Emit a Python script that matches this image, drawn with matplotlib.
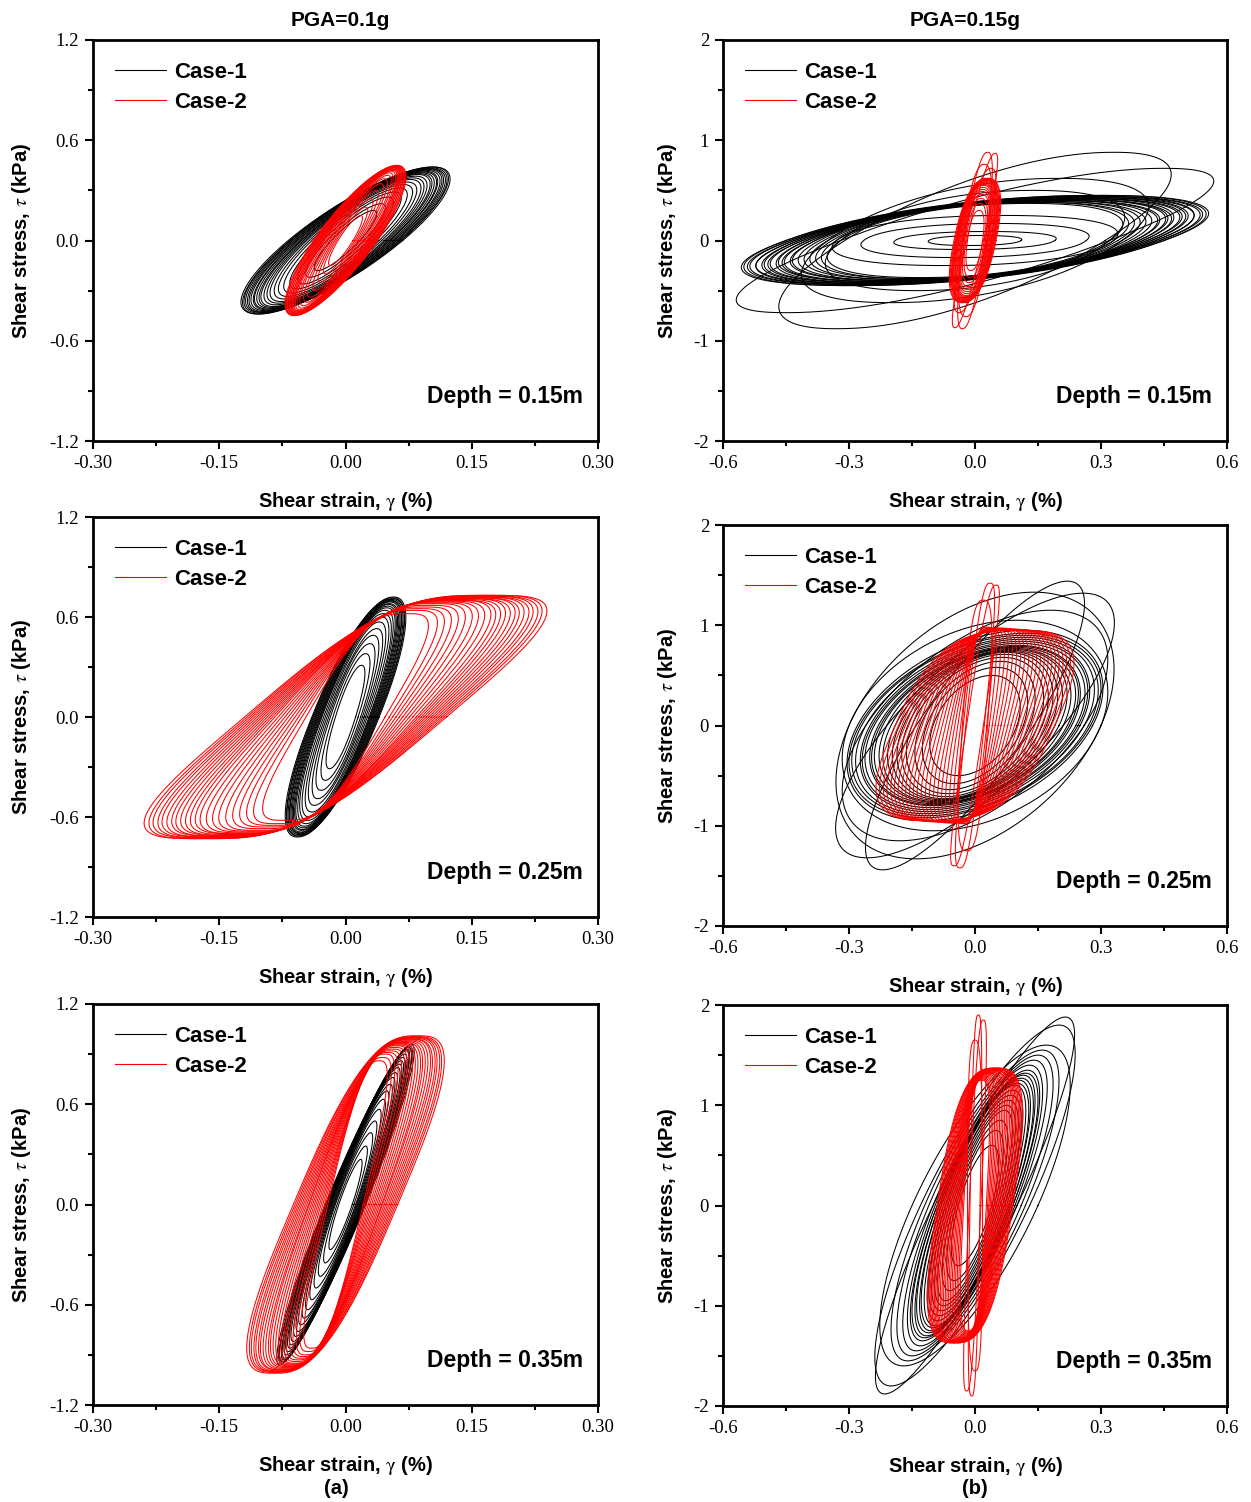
import numpy as np
import matplotlib.pyplot as plt

# Loop parameters, one entry per loop:
#   *_gt : shear strain (%) where the loop reaches its peak stress
#   *_tt : peak shear stress (kPa)
#   *_w  : half width of the loop at zero stress (%)

# PGA = 0.1g, depth 0.15 m
a1_c1_gt = [0.104, 0.103, 0.101, 0.100, 0.098, 0.097, 0.095, 0.093, 0.092, 0.090, 0.088,
            0.086, 0.083, 0.080, 0.077, 0.073, 0.069, 0.064, 0.058, 0.050, 0.042, 0.033]
a1_c1_tt = [0.44, 0.44, 0.435, 0.43, 0.43, 0.425, 0.42, 0.415, 0.41, 0.405, 0.40,
            0.395, 0.385, 0.375, 0.365, 0.35, 0.335, 0.315, 0.29, 0.26, 0.22, 0.18]
a1_c1_w = [0.068, 0.066, 0.066, 0.064, 0.063, 0.061, 0.060, 0.058, 0.057, 0.055, 0.053,
           0.052, 0.050, 0.048, 0.046, 0.043, 0.040, 0.036, 0.032, 0.027, 0.022, 0.017]
a1_c2_gt = [0.061, 0.060, 0.061, 0.059, 0.060, 0.058, 0.059, 0.057, 0.058, 0.056, 0.057,
            0.055, 0.056, 0.054, 0.052, 0.050, 0.046, 0.042, 0.036, 0.030, 0.024, 0.018]
a1_c2_tt = [0.45, 0.448, 0.446, 0.444, 0.442, 0.44, 0.438, 0.436, 0.434, 0.43, 0.428,
            0.425, 0.42, 0.415, 0.405, 0.39, 0.37, 0.34, 0.30, 0.25, 0.20, 0.15]
a1_c2_w = [0.038, 0.037, 0.036, 0.035, 0.034, 0.033, 0.032, 0.031, 0.030, 0.029, 0.028,
           0.027, 0.026, 0.025, 0.023, 0.021, 0.019, 0.017, 0.015, 0.013, 0.011, 0.009]

# PGA = 0.1g, depth 0.25 m
a2_c1_gt = [0.057, 0.056, 0.056, 0.055, 0.054, 0.054, 0.053, 0.052, 0.051, 0.050,
            0.049, 0.047, 0.045, 0.043, 0.040, 0.037, 0.033, 0.029, 0.024, 0.019]
a2_c1_tt = [0.72, 0.715, 0.71, 0.705, 0.70, 0.695, 0.69, 0.68, 0.675, 0.665,
            0.655, 0.64, 0.62, 0.60, 0.57, 0.53, 0.49, 0.44, 0.38, 0.31]
a2_c1_w = [0.040, 0.039, 0.038, 0.037, 0.036, 0.035, 0.034, 0.033, 0.032, 0.031,
           0.030, 0.029, 0.028, 0.026, 0.024, 0.022, 0.020, 0.018, 0.015, 0.012]
a2_c2_gt = [0.170, 0.166, 0.163, 0.159, 0.156, 0.152, 0.148, 0.145, 0.141, 0.137, 0.133,
            0.129, 0.125, 0.120, 0.115, 0.110, 0.104, 0.098, 0.092, 0.086, 0.080, 0.072]
a2_c2_tt = [0.73, 0.73, 0.725, 0.725, 0.72, 0.72, 0.715, 0.715, 0.71, 0.71, 0.705,
            0.70, 0.70, 0.695, 0.69, 0.685, 0.68, 0.67, 0.66, 0.65, 0.64, 0.62]
a2_c2_w = [0.120, 0.117, 0.114, 0.111, 0.108, 0.105, 0.102, 0.099, 0.096, 0.093, 0.090,
           0.087, 0.084, 0.080, 0.076, 0.072, 0.068, 0.064, 0.060, 0.056, 0.052, 0.047]

# PGA = 0.1g, depth 0.35 m
a3_c1_gt = [0.078, 0.076, 0.075, 0.073, 0.072, 0.070, 0.068, 0.066, 0.064, 0.062,
            0.059, 0.056, 0.053, 0.049, 0.045, 0.040, 0.035, 0.030, 0.024, 0.018]
a3_c1_tt = [0.96, 0.95, 0.94, 0.93, 0.92, 0.90, 0.88, 0.86, 0.84, 0.82,
            0.79, 0.76, 0.72, 0.68, 0.63, 0.57, 0.50, 0.43, 0.35, 0.27]
a3_c1_w = [0.024, 0.023, 0.023, 0.022, 0.022, 0.021, 0.021, 0.020, 0.020, 0.019,
           0.018, 0.018, 0.017, 0.016, 0.015, 0.014, 0.013, 0.012, 0.010, 0.008]
a3_c2_gt = [0.085, 0.083, 0.082, 0.080, 0.079, 0.077, 0.076, 0.074, 0.072, 0.070, 0.068,
            0.066, 0.064, 0.062, 0.060, 0.058, 0.056, 0.053, 0.050, 0.047, 0.044, 0.040]
a3_c2_tt = [1.01, 1.005, 1.0, 1.0, 0.995, 0.99, 0.99, 0.985, 0.98, 0.975, 0.97,
            0.965, 0.96, 0.955, 0.95, 0.94, 0.93, 0.92, 0.91, 0.90, 0.88, 0.86]
a3_c2_w = [0.062, 0.060, 0.058, 0.056, 0.054, 0.052, 0.050, 0.048, 0.046, 0.044, 0.043,
           0.041, 0.039, 0.037, 0.035, 0.033, 0.031, 0.029, 0.027, 0.025, 0.023, 0.021]

# PGA = 0.15g, depth 0.15 m
b1_c1_gt = [0.30, 0.29, 0.29, 0.28, 0.27, 0.27, 0.26, 0.25, 0.25, 0.24, 0.23, 0.22,
            0.22, 0.21, 0.20, 0.19, 0.18, 0.17, 0.16, 0.15, 0.14, 0.13,
            0.07, 0.05, 0.03, 0.015,
            0.33, 0.45, 0.14, 0.20]
b1_c1_tt = [0.45, 0.45, 0.44, 0.44, 0.44, 0.43, 0.43, 0.43, 0.42, 0.42, 0.42, 0.41,
            0.41, 0.41, 0.40, 0.40, 0.40, 0.39, 0.39, 0.38, 0.38, 0.37,
            0.25, 0.17, 0.09, 0.05,
            0.88, 0.72, 0.50, 0.62]
b1_c1_w = [0.45, 0.45, 0.44, 0.44, 0.43, 0.43, 0.42, 0.42, 0.41, 0.41, 0.40, 0.40,
           0.39, 0.39, 0.38, 0.38, 0.37, 0.36, 0.35, 0.34, 0.33, 0.32,
           0.33, 0.265, 0.19, 0.11,
           0.31, 0.32, 0.32, 0.35]
b1_c2_gt = [0.030, 0.029, 0.028, 0.027, 0.026, 0.025, 0.024, 0.023, 0.022, 0.021, 0.020,
            0.019, 0.018, 0.017, 0.016, 0.014, 0.012, 0.010, 0.030, 0.048, 0.022, 0.038]
b1_c2_tt = [0.62, 0.62, 0.61, 0.61, 0.60, 0.60, 0.59, 0.58, 0.57, 0.56, 0.55,
            0.53, 0.51, 0.49, 0.46, 0.42, 0.37, 0.30, 0.88, 0.87, 0.76, 0.72]
b1_c2_w = [0.050, 0.048, 0.046, 0.045, 0.044, 0.043, 0.042, 0.040, 0.039, 0.038, 0.036,
           0.034, 0.032, 0.030, 0.028, 0.025, 0.022, 0.018, 0.025, 0.020, 0.030, 0.028]

# PGA = 0.15g, depth 0.25 m
b2_c1_gt = [0.12, 0.12, 0.115, 0.115, 0.11, 0.11, 0.105, 0.10, 0.10, 0.095, 0.09, 0.09,
            0.085, 0.08, 0.075, 0.07, 0.065, 0.06, 0.05, 0.04,
            0.257, 0.14, 0.22, 0.18, 0.10]
b2_c1_tt = [0.95, 0.92, 0.90, 0.88, 0.86, 0.84, 0.82, 0.80, 0.79, 0.78, 0.77, 0.76,
            0.75, 0.74, 0.73, 0.71, 0.68, 0.64, 0.58, 0.50,
            1.32, 1.33, 1.44, 1.15, 1.05]
b2_c1_w = [0.28, 0.275, 0.27, 0.26, 0.25, 0.245, 0.24, 0.23, 0.225, 0.22, 0.21, 0.2,
           0.19, 0.18, 0.17, 0.16, 0.15, 0.13, 0.115, 0.10,
           0.21, 0.30, 0.14, 0.26, 0.30]
b2_c2_gt = [0.100, 0.098, 0.095, 0.093, 0.090, 0.088, 0.085, 0.082, 0.079, 0.076, 0.073,
            0.070, 0.066, 0.062, 0.058, 0.054, 0.050, 0.045, 0.040, 0.035, 0.030, 0.025,
            0.036, 0.050, 0.020]
b2_c2_tt = [0.95, 0.95, 0.95, 0.95, 0.95, 0.95, 0.96, 0.96, 0.96, 0.96, 0.96,
            0.96, 0.96, 0.97, 0.97, 0.97, 0.97, 0.97, 0.97, 0.97, 0.98, 0.98,
            1.42, 1.40, 1.25]
b2_c2_w = [0.190, 0.182, 0.174, 0.166, 0.158, 0.150, 0.142, 0.134, 0.126, 0.118, 0.110,
           0.102, 0.094, 0.086, 0.078, 0.070, 0.062, 0.055, 0.048, 0.041, 0.034, 0.028,
           0.022, 0.020, 0.030]

# PGA = 0.15g, depth 0.35 m
b3_c1_gt = [0.215, 0.20, 0.17, 0.16, 0.15, 0.14, 0.13, 0.125, 0.12, 0.115, 0.11, 0.105,
            0.10, 0.095, 0.09, 0.085, 0.08, 0.075, 0.07, 0.06, 0.05, 0.04]
b3_c1_tt = [1.88, 1.80, 1.60, 1.55, 1.50, 1.45, 1.40, 1.35, 1.32, 1.30, 1.27, 1.25,
            1.22, 1.20, 1.15, 1.10, 1.05, 1.00, 0.95, 0.85, 0.75, 0.60]
b3_c1_w = [0.10, 0.13, 0.15, 0.12, 0.11, 0.10, 0.095, 0.09, 0.09, 0.085, 0.085, 0.08,
           0.08, 0.075, 0.07, 0.07, 0.065, 0.06, 0.055, 0.05, 0.045, 0.04]
b3_c2_gt = [0.050, 0.049, 0.048, 0.047, 0.046, 0.045, 0.044, 0.043, 0.042, 0.040, 0.038,
            0.036, 0.034, 0.032, 0.030, 0.028, 0.026, 0.024, 0.022, 0.020, 0.018, 0.016,
            0.008, 0.020, 0.000]
b3_c2_tt = [1.37, 1.37, 1.37, 1.36, 1.36, 1.36, 1.35, 1.35, 1.35, 1.34, 1.34,
            1.33, 1.33, 1.32, 1.32, 1.31, 1.30, 1.29, 1.28, 1.27, 1.26, 1.25,
            1.90, 1.85, 1.65]
b3_c2_w = [0.090, 0.087, 0.084, 0.081, 0.078, 0.075, 0.072, 0.069, 0.066, 0.063, 0.060,
           0.057, 0.054, 0.051, 0.048, 0.045, 0.042, 0.039, 0.036, 0.033, 0.030, 0.027,
           0.012, 0.014, 0.018]

depths = ['0.15m', '0.25m', '0.35m']
pga = ['PGA=0.1g', 'PGA=0.15g']

plt.rcParams['font.family'] = ['Liberation Sans', 'DejaVu Sans']
plt.rcParams['mathtext.fontset'] = 'stix'


def loop(gt, tt, w, n):
    # closed loop: affine image of a superellipse (n=2 gives an ellipse)
    t = np.linspace(0, 2 * np.pi, 300)
    c = np.sign(np.cos(t)) * np.abs(np.cos(t)) ** (2.0 / n)
    s = np.sign(np.sin(t)) * np.abs(np.sin(t)) ** (2.0 / n)
    return gt * s + w * c, tt * s


def draw(ax, gts, tts, ws, n, color):
    for gt, tt, w in zip(gts, tts, ws):
        x, y = loop(gt, tt, w, n)
        ax.plot(x, y, color=color, lw=0.75)


fig = plt.figure(figsize=(12.51, 15.02), dpi=100)
W, H = 1251.0, 1502.0
# axes boxes in pixels: left, top, right, bottom
boxes = [[(93, 40, 598, 441), (723, 40, 1227, 441)],
         [(93, 517, 598, 917), (723, 525, 1227, 926)],
         [(93, 1004, 598, 1405), (723, 1005, 1227, 1406)]]

series = [
    [(a1_c1_gt, a1_c1_tt, a1_c1_w, 2.0, a1_c2_gt, a1_c2_tt, a1_c2_w, 2.0),
     (b1_c1_gt, b1_c1_tt, b1_c1_w, 2.2, b1_c2_gt, b1_c2_tt, b1_c2_w, 2.4)],
    [(a2_c1_gt, a2_c1_tt, a2_c1_w, 2.2, a2_c2_gt, a2_c2_tt, a2_c2_w, 3.5),
     (b2_c1_gt, b2_c1_tt, b2_c1_w, 2.0, b2_c2_gt, b2_c2_tt, b2_c2_w, 3.0)],
    [(a3_c1_gt, a3_c1_tt, a3_c1_w, 2.0, a3_c2_gt, a3_c2_tt, a3_c2_w, 3.0),
     (b3_c1_gt, b3_c1_tt, b3_c1_w, 2.0, b3_c2_gt, b3_c2_tt, b3_c2_w, 3.0)],
]

bold = dict(fontweight='bold')
for r in range(3):
    for c in range(2):
        l, t, rr, b = boxes[r][c]
        ax = fig.add_axes([l / W, 1 - b / H, (rr - l) / W, (b - t) / H])
        g1, t1, w1, n1, g2, t2, w2, n2 = series[r][c]
        draw(ax, g1, t1, w1, n1, 'black')
        draw(ax, g2, t2, w2, n2, 'red')
        ax.plot([], [], color='black', lw=0.8, label='Case-1')
        ax.plot([], [], color='red', lw=0.8, label='Case-2')

        if c == 0:
            ax.set_xlim(-0.3, 0.3)
            ax.set_ylim(-1.2, 1.2)
            ax.set_xticks([-0.3, -0.15, 0, 0.15, 0.3])
            ax.set_xticklabels(['-0.30', '-0.15', '0.00', '0.15', '0.30'])
            ax.set_xticks([-0.225, -0.075, 0.075, 0.225], minor=True)
            ax.set_yticks([-1.2, -0.6, 0, 0.6, 1.2])
            ax.set_yticklabels(['-1.2', '-0.6', '0.0', '0.6', '1.2'])
            ax.set_yticks([-0.9, -0.3, 0.3, 0.9], minor=True)
            ax.yaxis.set_label_coords(-0.119, 0.5)
        else:
            ax.set_xlim(-0.6, 0.6)
            ax.set_ylim(-2, 2)
            ax.set_xticks([-0.6, -0.3, 0, 0.3, 0.6])
            ax.set_xticklabels(['-0.6', '-0.3', '0.0', '0.3', '0.6'])
            ax.set_xticks([-0.45, -0.15, 0.15, 0.45], minor=True)
            ax.set_yticks([-2, -1, 0, 1, 2])
            ax.set_yticklabels(['-2', '-1', '0', '1', '2'])
            ax.set_yticks([-1.5, -0.5, 0.5, 1.5], minor=True)
            ax.yaxis.set_label_coords(-0.088, 0.5)

        for s in ax.spines.values():
            s.set_linewidth(2)
        ax.tick_params(which='major', direction='out', length=6, width=1.5,
                       labelsize=13.5, pad=4)
        ax.tick_params(which='minor', direction='out', length=3.5, width=1.5)
        for lab in ax.get_xticklabels() + ax.get_yticklabels():
            lab.set_fontfamily('Liberation Serif')

        ax.set_xlabel(r'Shear strain, $\mathrm{\gamma}$ (%)', fontsize=14.5, **bold)
        ax.set_ylabel(r'Shear stress, $\tau$ (kPa)', fontsize=14.5, **bold)
        ax.xaxis.set_label_coords(0.5, -0.122)

        ax.legend(loc='upper left', bbox_to_anchor=(0.0, 1.0), frameon=False,
                  handlelength=2.3, handletextpad=0.35, labelspacing=0.38,
                  borderaxespad=0.6, prop=dict(weight='bold', size=16))
        ax.text(0.97, 0.112, 'Depth = ' + depths[r], transform=ax.transAxes,
                ha='right', va='center', fontsize=16.5, **bold)

fig.text(340 / W, 1 - 20 / H, pga[0], ha='center', va='center', fontsize=15, **bold)
fig.text(965 / W, 1 - 20 / H, pga[1], ha='center', va='center', fontsize=15, **bold)
fig.text(336 / W, 1 - 1488 / H, '(a)', ha='center', va='center', fontsize=14.5, **bold)
fig.text(975 / W, 1 - 1488 / H, '(b)', ha='center', va='center', fontsize=14.5, **bold)

fig.savefig('out.png', dpi=100)
